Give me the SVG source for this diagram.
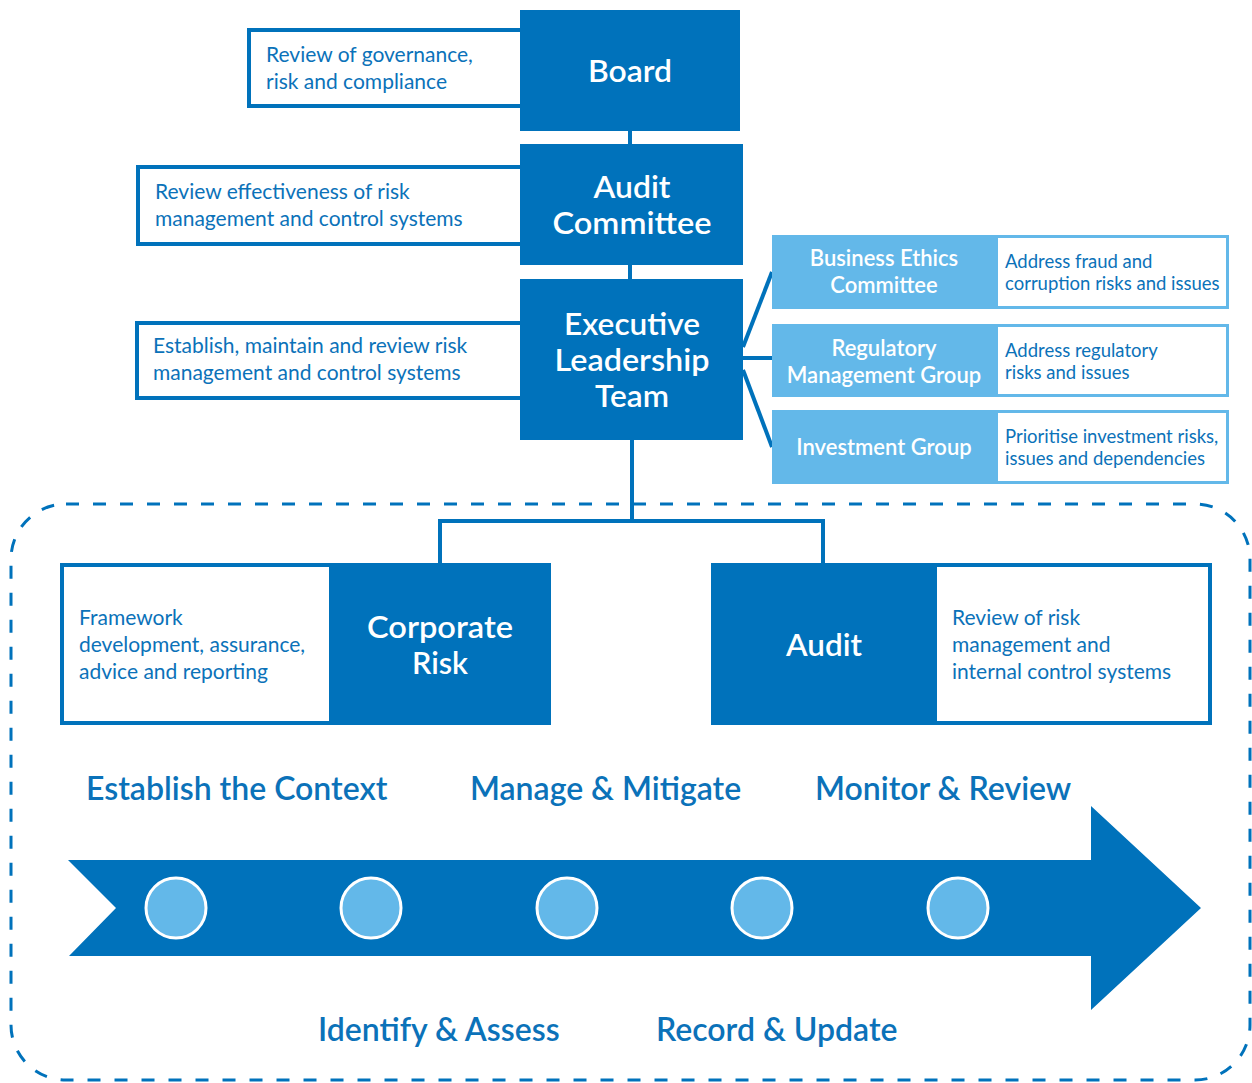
<svg xmlns="http://www.w3.org/2000/svg" width="1252" height="1083" viewBox="0 0 1252 1083">
<style>
.dark{fill:#0072bb}
.light{fill:#63b8e9}
.wbox{fill:#ffffff;stroke:#0072bb;stroke-width:4}
.lbox{fill:#ffffff}
.conn{stroke:#0072bb;stroke-width:4;fill:none}
.t{font-family:Lato,"Open Sans","Liberation Sans",sans-serif}
.wt{fill:#ffffff;text-anchor:middle;font-size:30px;font-weight:600}
.st{fill:#0b72b9;font-size:21px}
.lt{fill:#ffffff;text-anchor:middle;font-size:22px;font-weight:600}
.sm{fill:#0b72b9;font-size:18.5px}
.hd{fill:#0b72b9;font-size:32px;font-weight:600}
.dot{fill:#63b8e9;stroke:#ffffff;stroke-width:3}
</style>
<rect width="1252" height="1083" fill="#ffffff"/>

<!-- dashed boundary -->
<rect x="11" y="504" width="1239" height="576" rx="55" ry="55" fill="none" stroke="#0072bb" stroke-width="3" stroke-dasharray="13 14"/>

<g id="connectors">
<line class="conn" x1="630" y1="131" x2="630" y2="145"/>
<line class="conn" x1="630" y1="265" x2="630" y2="280"/>
<line class="conn" x1="743" y1="347" x2="772" y2="272"/>
<line class="conn" x1="743" y1="358" x2="772" y2="358"/>
<line class="conn" x1="743" y1="370" x2="772" y2="447"/>
<polyline class="conn" points="632,440 632,521"/>
<polyline class="conn" points="440,565 440,521 823,521 823,565"/>
</g>

<g id="board">
<rect class="wbox" x="249" y="30" width="274" height="76"/>
<rect class="dark" x="520" y="10" width="220" height="121"/>
<text class="t wt" x="630" y="82" textLength="84" lengthAdjust="spacingAndGlyphs">Board</text>
<text class="t st" x="266" y="62">Review of governance,</text>
<text class="t st" x="266" y="89">risk and compliance</text>
</g>

<g id="audit-committee">
<rect class="wbox" x="138" y="167" width="385" height="77"/>
<rect class="dark" x="520" y="144" width="223" height="121"/>
<text class="t wt" x="632" y="198" textLength="77" lengthAdjust="spacingAndGlyphs">Audit</text>
<text class="t wt" x="632" y="234" textLength="159" lengthAdjust="spacingAndGlyphs">Committee</text>
<text class="t st" x="155" y="199">Review effectiveness of risk</text>
<text class="t st" x="155" y="226">management and control systems</text>
</g>

<g id="executive">
<rect class="wbox" x="137" y="323" width="386" height="75"/>
<rect class="dark" x="520" y="279" width="223" height="161"/>
<text class="t wt" x="632" y="335" textLength="136" lengthAdjust="spacingAndGlyphs">Executive</text>
<text class="t wt" x="632" y="371" textLength="155" lengthAdjust="spacingAndGlyphs">Leadership</text>
<text class="t wt" x="632" y="407" textLength="74" lengthAdjust="spacingAndGlyphs">Team</text>
<text class="t st" x="153" y="353">Establish, maintain and review risk</text>
<text class="t st" x="153" y="380">management and control systems</text>
</g>

<g id="business-ethics">
<rect class="light" x="772" y="235" width="457" height="74"/>
<rect class="lbox" x="998" y="238" width="228" height="68"/>
<text class="t lt" x="884" y="266">Business Ethics</text>
<text class="t lt" x="884" y="293">Committee</text>
<text class="t sm" x="1005" y="268">Address fraud and</text>
<text class="t sm" x="1005" y="290">corruption risks and issues</text>
</g>

<g id="regulatory">
<rect class="light" x="772" y="324" width="457" height="73"/>
<rect class="lbox" x="998" y="327" width="228" height="67"/>
<text class="t lt" x="884" y="356">Regulatory</text>
<text class="t lt" x="884" y="383">Management Group</text>
<text class="t sm" x="1005" y="357">Address regulatory</text>
<text class="t sm" x="1005" y="379">risks and issues</text>
</g>

<g id="investment">
<rect class="light" x="772" y="410" width="457" height="74"/>
<rect class="lbox" x="998" y="413" width="228" height="68"/>
<text class="t lt" x="884" y="455">Investment Group</text>
<text class="t sm" x="1005" y="443">Prioritise investment risks,</text>
<text class="t sm" x="1005" y="465">issues and dependencies</text>
</g>

<g id="corporate-risk">
<rect class="wbox" x="62" y="565" width="487" height="158"/>
<rect class="dark" x="329" y="563" width="222" height="162"/>
<text class="t wt" x="440" y="638" textLength="146" lengthAdjust="spacingAndGlyphs">Corporate</text>
<text class="t wt" x="440" y="674" textLength="56" lengthAdjust="spacingAndGlyphs">Risk</text>
<text class="t st" x="79" y="625">Framework</text>
<text class="t st" x="79" y="652">development, assurance,</text>
<text class="t st" x="79" y="679">advice and reporting</text>
</g>

<g id="audit">
<rect class="wbox" x="713" y="565" width="497" height="158"/>
<rect class="dark" x="711" y="563" width="226" height="162"/>
<text class="t wt" x="824" y="656" textLength="76" lengthAdjust="spacingAndGlyphs">Audit</text>
<text class="t st" x="952" y="625">Review of risk</text>
<text class="t st" x="952" y="652">management and</text>
<text class="t st" x="952" y="679">internal control systems</text>
</g>

<g id="process">
<polygon class="dark" points="68,860 1091,860 1091,806 1201,908 1091,1010 1091,956 69,956 116,908"/>
<circle class="dot" cx="176" cy="908" r="30"/>
<circle class="dot" cx="371" cy="908" r="30"/>
<circle class="dot" cx="567" cy="908" r="30"/>
<circle class="dot" cx="762" cy="908" r="30"/>
<circle class="dot" cx="958" cy="908" r="30"/>
<text class="t hd" x="86" y="800">Establish the Context</text>
<text class="t hd" x="470" y="800">Manage &amp; Mitigate</text>
<text class="t hd" x="815" y="800">Monitor &amp; Review</text>
<text class="t hd" x="318" y="1041">Identify &amp; Assess</text>
<text class="t hd" x="656" y="1041">Record &amp; Update</text>
</g>
</svg>
